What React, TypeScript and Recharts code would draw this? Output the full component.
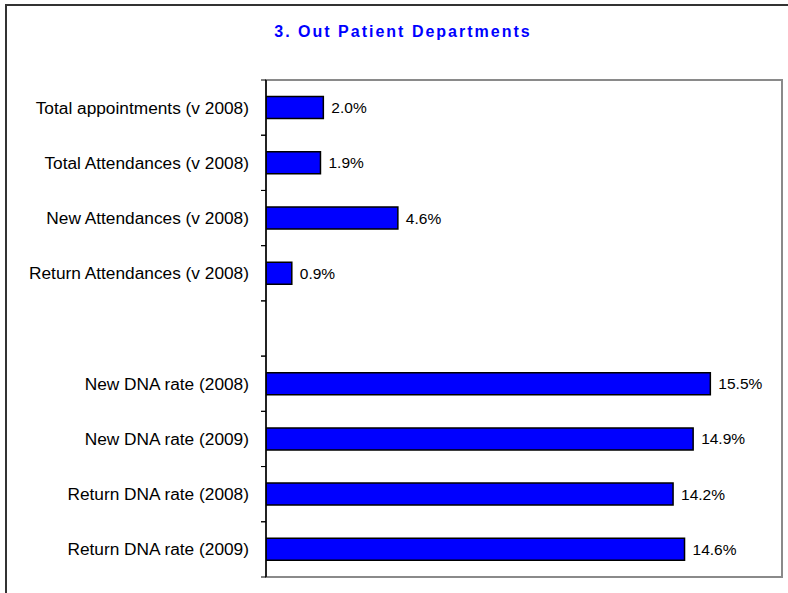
import React from 'react';
import { BarChart, Bar, XAxis, YAxis, LabelList, ReferenceArea, ReferenceLine } from 'recharts';

// categories top to bottom, blank row splits the two groups
const categories = [
  "Total appointments (v 2008)",
  "Total Attendances (v 2008)",
  "New Attendances (v 2008)",
  "Return Attendances (v 2008)",
  "",
  "New DNA rate (2008)",
  "New DNA rate (2009)",
  "Return DNA rate (2008)",
  "Return DNA rate (2009)",
];

// percent values, null for the spacer row
const values = [2.0, 1.9, 4.6, 0.9, null, 15.5, 14.9, 14.2, 14.6];

const xDomain = [0, 18];

const data = categories.map((name, i) => ({ name, value: values[i] }));

const FONT = '"Liberation Sans", Arial, sans-serif';

// label in the middle of the band, tick marks on the band edges (Excel style)
const CategoryTick = (props: any) => {
  const { x, y, payload } = props;
  const half = payload && payload.offset ? payload.offset : 0;
  return (
    <g>
      <text
        x={x - 17}
        y={y}
        textAnchor="end"
        dominantBaseline="central"
        fontFamily={FONT}
        fontSize={17.3}
        fill="#000"
      >
        {payload.value}
      </text>
      {half > 0 && (
        <>
          <line x1={x - 5} x2={x} y1={y - half} y2={y - half} stroke="#000" strokeWidth={1} />
          <line x1={x - 5} x2={x} y1={y + half} y2={y + half} stroke="#000" strokeWidth={1} />
        </>
      )}
    </g>
  );
};

const App: React.FC = () => {
  return (
    <div style={{ position: 'absolute', left: 0, top: 0, width: 788, height: 593, overflow: 'hidden', background: '#fff' }}>
      {/* outer frame, only left and top edges show */}
      <div style={{ position: 'absolute', left: 5, top: 4, width: 820, height: 620, border: '2px solid #333' }} />
      <div
        style={{
          position: 'absolute',
          left: 0,
          width: 806,
          top: 23,
          textAlign: 'center',
          fontFamily: FONT,
          fontWeight: 'bold',
          fontSize: 16,
          letterSpacing: 2,
          color: '#0000ff',
        }}
      >
        3. Out Patient Departments
      </div>
      <div style={{ position: 'absolute', left: 0, top: 0 }}>
        <BarChart
          width={788}
          height={593}
          data={data}
          layout="vertical"
          margin={{ top: 80, right: 6, bottom: 16, left: 0 }}
          barCategoryGap="30%"
        >
          <ReferenceArea x1={xDomain[0]} x2={xDomain[1]} fill="none" stroke="#8a8a8a" strokeWidth={2} ifOverflow="visible" />
          <ReferenceLine x={0} stroke="#000" strokeWidth={1.5} ifOverflow="visible" />
          <XAxis type="number" domain={xDomain} hide allowDataOverflow />
          <YAxis
            type="category"
            dataKey="name"
            width={266}
            tickLine={false}
            tickSize={0}
            tickMargin={0}
            axisLine={false}
            tick={<CategoryTick />}
            interval={0}
          />
          <Bar dataKey="value" fill="#0000ff" stroke="#000" strokeWidth={1.5} isAnimationActive={false}>
            <LabelList
              dataKey="value"
              position="right"
              offset={8}
              fill="#000"
              fontFamily={FONT}
              fontSize={15.5}
              formatter={(v: any) => (v == null ? '' : `${Number(v).toFixed(1)}%`)}
            />
          </Bar>
        </BarChart>
      </div>
    </div>
  );
};

export default App;
